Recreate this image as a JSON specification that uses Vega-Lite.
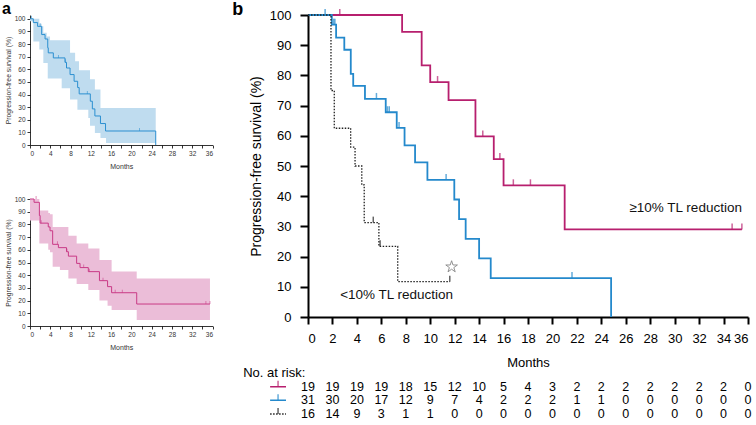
{
  "$schema": "https://vega.github.io/schema/vega-lite/v6.json",
  "description": "Kaplan-Meier progression-free survival, panels a and b",
  "background": "white",
  "padding": {"left": 2, "top": 0, "right": 0, "bottom": 0},
  "config": {
    "font": "Liberation Sans",
    "view": {"stroke": null},
    "axis": {"grid": false, "labelColor": "black", "titleColor": "black", "titleFontWeight": "normal", "domainColor": "black", "tickColor": "black"}
  },
  "datasets": {
    "kmA1": [
      {"t": 0, "s": 100}, {"t": 0.65, "s": 97}, {"t": 1.5, "s": 94}, {"t": 2.3, "s": 87.5},
      {"t": 2.97, "s": 84}, {"t": 3.5, "s": 77}, {"t": 3.6, "s": 73}, {"t": 4.6, "s": 69},
      {"t": 6.9, "s": 65.5}, {"t": 7.2, "s": 61}, {"t": 7.9, "s": 55.8}, {"t": 8.7, "s": 50.5},
      {"t": 9.4, "s": 45.5}, {"t": 9.7, "s": 40.5}, {"t": 11.9, "s": 34.7}, {"t": 12.3, "s": 28.6},
      {"t": 12.8, "s": 23}, {"t": 13.9, "s": 17}, {"t": 14.9, "s": 11.1}, {"t": 24.8, "s": 0}
    ],
    "bandA1": [
      {"t": 0, "lo": 98, "hi": 100}, {"t": 0.66, "lo": 82, "hi": 100}, {"t": 1.84, "lo": 75.7, "hi": 96},
      {"t": 2.3, "lo": 75.7, "hi": 94}, {"t": 2.63, "lo": 65, "hi": 89}, {"t": 3.3, "lo": 65, "hi": 86},
      {"t": 3.5, "lo": 52.6, "hi": 86}, {"t": 3.95, "lo": 52.6, "hi": 83}, {"t": 6.25, "lo": 45, "hi": 83},
      {"t": 7.9, "lo": 36, "hi": 73}, {"t": 8.9, "lo": 36, "hi": 66.4}, {"t": 9.35, "lo": 28, "hi": 66.4},
      {"t": 9.67, "lo": 28, "hi": 59.3}, {"t": 11.5, "lo": 21.4, "hi": 59.3}, {"t": 11.84, "lo": 15.3, "hi": 52},
      {"t": 12.8, "lo": 9.5, "hi": 44}, {"t": 13.9, "lo": 5.6, "hi": 29.4}, {"t": 15, "lo": 1.6, "hi": 29.4},
      {"t": 24.8, "lo": 1.6, "hi": 29.4}
    ],
    "censA1": [
      {"t": 0.3, "s": 100}, {"t": 2.0, "s": 94}, {"t": 5.6, "s": 69}, {"t": 7.0, "s": 65.5},
      {"t": 11.3, "s": 40.5}, {"t": 21.6, "s": 11.1}
    ],
    "kmA2": [
      {"t": 0, "s": 100}, {"t": 0.8, "s": 97.4}, {"t": 1.85, "s": 87}, {"t": 2.0, "s": 81},
      {"t": 3.6, "s": 78}, {"t": 3.95, "s": 75}, {"t": 4.47, "s": 64.3}, {"t": 5.6, "s": 61.7},
      {"t": 7.2, "s": 58.5}, {"t": 7.57, "s": 55}, {"t": 9.2, "s": 49.3}, {"t": 9.87, "s": 46},
      {"t": 11.5, "s": 42.8}, {"t": 13.7, "s": 35.7}, {"t": 15.3, "s": 31}, {"t": 16.1, "s": 26.2},
      {"t": 21.05, "s": 17.3}, {"t": 35.5, "s": 17.3}
    ],
    "bandA2": [
      {"t": 0, "lo": 83, "hi": 100}, {"t": 1.85, "lo": 65, "hi": 91}, {"t": 3.6, "lo": 60, "hi": 89},
      {"t": 3.95, "lo": 58, "hi": 88}, {"t": 4.47, "lo": 46.7, "hi": 78}, {"t": 5.9, "lo": 44, "hi": 78},
      {"t": 7.57, "lo": 37.5, "hi": 71}, {"t": 9.2, "lo": 33, "hi": 65}, {"t": 11.5, "lo": 28.3, "hi": 61},
      {"t": 13.7, "lo": 20, "hi": 52}, {"t": 15.3, "lo": 16, "hi": 52}, {"t": 16.1, "lo": 12.6, "hi": 43},
      {"t": 21.05, "lo": 4.7, "hi": 37.5}, {"t": 35.5, "lo": 4.7, "hi": 37.5}
    ],
    "censA2": [
      {"t": 1.2, "s": 100}, {"t": 2.2, "s": 81}, {"t": 5.4, "s": 64.3}, {"t": 7.3, "s": 58.5},
      {"t": 10.6, "s": 46}, {"t": 11.7, "s": 42.8}, {"t": 14.4, "s": 35.7}, {"t": 16.8, "s": 26.2},
      {"t": 18.2, "s": 26.2}, {"t": 34.7, "s": 17.3}, {"t": 35.5, "s": 17.3}
    ],
    "kmB": [
      {"g": "m", "t": 0, "s": 100}, {"g": "m", "t": 7.7, "s": 94.4}, {"g": "m", "t": 9.3, "s": 83.3},
      {"g": "m", "t": 10.0, "s": 77.8}, {"g": "m", "t": 11.5, "s": 71.8}, {"g": "m", "t": 13.7, "s": 59.8},
      {"g": "m", "t": 15.2, "s": 52.3}, {"g": "m", "t": 16.0, "s": 43.6}, {"g": "m", "t": 21.0, "s": 29.0},
      {"g": "m", "t": 35.5, "s": 29.0},
      {"g": "b", "t": 0, "s": 100}, {"g": "b", "t": 1.95, "s": 96.8}, {"g": "b", "t": 2.3, "s": 92.5},
      {"g": "b", "t": 2.97, "s": 88.5}, {"g": "b", "t": 3.5, "s": 80.5}, {"g": "b", "t": 3.7, "s": 76.5},
      {"g": "b", "t": 4.66, "s": 72.2}, {"g": "b", "t": 6.36, "s": 67.8}, {"g": "b", "t": 7.26, "s": 62.6},
      {"g": "b", "t": 7.9, "s": 56.8}, {"g": "b", "t": 8.76, "s": 51.2}, {"g": "b", "t": 9.77, "s": 45.4},
      {"g": "b", "t": 11.97, "s": 38.9}, {"g": "b", "t": 12.36, "s": 32.4}, {"g": "b", "t": 12.9, "s": 25.9},
      {"g": "b", "t": 14.0, "s": 19.4}, {"g": "b", "t": 14.95, "s": 12.9}, {"g": "b", "t": 24.8, "s": 0},
      {"g": "k", "t": 0, "s": 100}, {"g": "k", "t": 1.88, "s": 75}, {"g": "k", "t": 2.15, "s": 62.5},
      {"g": "k", "t": 3.49, "s": 56.25}, {"g": "k", "t": 3.85, "s": 50}, {"g": "k", "t": 4.4, "s": 43.75},
      {"g": "k", "t": 4.6, "s": 31.25}, {"g": "k", "t": 5.8, "s": 23.4}, {"g": "k", "t": 7.34, "s": 11.7},
      {"g": "k", "t": 11.6, "s": 11.7}
    ],
    "censB": [
      {"g": "m", "t": 2.6, "s": 100}, {"g": "m", "t": 10.6, "s": 77.8}, {"g": "m", "t": 14.3, "s": 59.8},
      {"g": "m", "t": 15.7, "s": 52.3}, {"g": "m", "t": 16.8, "s": 43.6}, {"g": "m", "t": 18.2, "s": 43.6},
      {"g": "m", "t": 34.7, "s": 29}, {"g": "m", "t": 35.5, "s": 29},
      {"g": "b", "t": 1.4, "s": 100}, {"g": "b", "t": 2.1, "s": 96.8}, {"g": "b", "t": 2.2, "s": 96.8},
      {"g": "b", "t": 5.6, "s": 72.2}, {"g": "b", "t": 6.5, "s": 67.8}, {"g": "b", "t": 6.65, "s": 67.8},
      {"g": "b", "t": 7.45, "s": 62.6}, {"g": "b", "t": 11.3, "s": 45.4}, {"g": "b", "t": 21.6, "s": 12.9},
      {"g": "k", "t": 5.34, "s": 31.25}, {"g": "k", "t": 5.9, "s": 23.4}, {"g": "k", "t": 11.6, "s": 11.7}
    ],
    "notes": [
      {"t": 30.9, "s": 36.0, "label": "≥10% TL reduction"},
      {"t": 7.25, "s": 7.2, "label": "<10% TL reduction"}
    ],
    "star": [{"t": 11.75, "s": 16.6}],
    "letterA": [{"t": -5.5, "s": 103.8, "label": "a"}],
    "letterB": [{"t": -6.2, "s": 100, "label": "b"}],
    "risk": [
      {"g": "m", "t": 0, "n": 19}, {"g": "m", "t": 2, "n": 19}, {"g": "m", "t": 4, "n": 19}, {"g": "m", "t": 6, "n": 19},
      {"g": "m", "t": 8, "n": 18}, {"g": "m", "t": 10, "n": 15}, {"g": "m", "t": 12, "n": 12}, {"g": "m", "t": 14, "n": 10},
      {"g": "m", "t": 16, "n": 5}, {"g": "m", "t": 18, "n": 4}, {"g": "m", "t": 20, "n": 3}, {"g": "m", "t": 22, "n": 2},
      {"g": "m", "t": 24, "n": 2}, {"g": "m", "t": 26, "n": 2}, {"g": "m", "t": 28, "n": 2}, {"g": "m", "t": 30, "n": 2},
      {"g": "m", "t": 32, "n": 2}, {"g": "m", "t": 34, "n": 2}, {"g": "m", "t": 36, "n": 0},
      {"g": "b", "t": 0, "n": 31}, {"g": "b", "t": 2, "n": 30}, {"g": "b", "t": 4, "n": 20}, {"g": "b", "t": 6, "n": 17},
      {"g": "b", "t": 8, "n": 12}, {"g": "b", "t": 10, "n": 9}, {"g": "b", "t": 12, "n": 7}, {"g": "b", "t": 14, "n": 4},
      {"g": "b", "t": 16, "n": 2}, {"g": "b", "t": 18, "n": 2}, {"g": "b", "t": 20, "n": 2}, {"g": "b", "t": 22, "n": 1},
      {"g": "b", "t": 24, "n": 1}, {"g": "b", "t": 26, "n": 0}, {"g": "b", "t": 28, "n": 0}, {"g": "b", "t": 30, "n": 0},
      {"g": "b", "t": 32, "n": 0}, {"g": "b", "t": 34, "n": 0}, {"g": "b", "t": 36, "n": 0},
      {"g": "k", "t": 0, "n": 16}, {"g": "k", "t": 2, "n": 14}, {"g": "k", "t": 4, "n": 9}, {"g": "k", "t": 6, "n": 3},
      {"g": "k", "t": 8, "n": 1}, {"g": "k", "t": 10, "n": 1}, {"g": "k", "t": 12, "n": 0}, {"g": "k", "t": 14, "n": 0},
      {"g": "k", "t": 16, "n": 0}, {"g": "k", "t": 18, "n": 0}, {"g": "k", "t": 20, "n": 0}, {"g": "k", "t": 22, "n": 0},
      {"g": "k", "t": 24, "n": 0}, {"g": "k", "t": 26, "n": 0}, {"g": "k", "t": 28, "n": 0}, {"g": "k", "t": 30, "n": 0},
      {"g": "k", "t": 32, "n": 0}, {"g": "k", "t": 34, "n": 0}, {"g": "k", "t": 36, "n": 0}
    ],
    "riskKey": [
      {"g": "m", "t1": -3.1, "t2": -1.8, "tm": -2.45},
      {"g": "b", "t1": -3.1, "t2": -1.8, "tm": -2.45},
      {"g": "k", "t1": -3.1, "t2": -1.8, "tm": -2.45}
    ],
    "riskHead": [{"g": "hdr", "t": -5.3, "label": "No. at risk:"}]
  },
  "hconcat": [
    {
      "vconcat": [
        {
          "width": 182.5,
          "height": 130,
          "encoding": {
            "x": {"field": "t", "type": "quantitative", "scale": {"domain": [0, 36], "nice": false},
              "axis": {"title": "Months", "values": [0,2,4,6,8,10,12,14,16,18,20,22,24,26,28,30,32,34,36], "labelFontSize": 6.5, "titleFontSize": 7, "tickSize": 3, "labelPadding": 2, "titlePadding": 6, "domainWidth": 0.8, "tickWidth": 0.8, "labelColor": "#333", "titleColor": "#333"}},
            "y": {"field": "s", "type": "quantitative", "scale": {"domain": [0, 103], "nice": false},
              "axis": {"title": "Progression-free survival (%)", "values": [0,10,20,30,40,50,60,70,80,90,100], "labelFontSize": 6.5, "titleFontSize": 6.8, "tickSize": 3, "labelPadding": 2, "titlePadding": 3, "domainWidth": 0.8, "tickWidth": 0.8, "labelColor": "#333", "titleColor": "#333"}}
          },
          "layer": [
            {"data": {"name": "bandA1"}, "mark": {"type": "area", "interpolate": "step-after", "color": "#bfdcef"},
              "encoding": {"y": {"field": "lo", "type": "quantitative"}, "y2": {"field": "hi"}}},
            {"data": {"name": "kmA1"}, "mark": {"type": "line", "interpolate": "step-after", "color": "#2b8fd0", "strokeWidth": 1}},
            {"data": {"name": "censA1"}, "mark": {"type": "tick", "orient": "vertical", "size": 3, "thickness": 0.8, "yOffset": -1.5, "color": "#2b8fd0"}},
            {"data": {"name": "letterA"}, "mark": {"type": "text", "fontSize": 16, "fontWeight": "bold", "align": "left", "baseline": "alphabetic", "color": "black"},
              "encoding": {"text": {"field": "label"}}}
          ]
        },
        {
          "width": 182.5,
          "height": 127,
          "encoding": {
            "x": {"field": "t", "type": "quantitative", "scale": {"domain": [0, 36], "nice": false},
              "axis": {"title": "Months", "values": [0,2,4,6,8,10,12,14,16,18,20,22,24,26,28,30,32,34,36], "labelFontSize": 6.5, "titleFontSize": 7, "tickSize": 3, "labelPadding": 2, "titlePadding": 6, "domainWidth": 0.8, "tickWidth": 0.8, "labelColor": "#333", "titleColor": "#333"}},
            "y": {"field": "s", "type": "quantitative", "scale": {"domain": [0, 100], "nice": false},
              "axis": {"title": "Progression-free survival (%)", "values": [0,10,20,30,40,50,60,70,80,90,100], "labelFontSize": 6.5, "titleFontSize": 6.8, "tickSize": 3, "labelPadding": 2, "titlePadding": 3, "domainWidth": 0.8, "tickWidth": 0.8, "labelColor": "#333", "titleColor": "#333"}}
          },
          "layer": [
            {"data": {"name": "bandA2"}, "mark": {"type": "area", "interpolate": "step-after", "color": "#ebbdd8"},
              "encoding": {"y": {"field": "lo", "type": "quantitative"}, "y2": {"field": "hi"}}},
            {"data": {"name": "kmA2"}, "mark": {"type": "line", "interpolate": "step-after", "color": "#c93a86", "strokeWidth": 1}},
            {"data": {"name": "censA2"}, "mark": {"type": "tick", "orient": "vertical", "size": 3, "thickness": 0.8, "yOffset": -1.5, "color": "#c93a86"}}
          ]
        }
      ],
      "spacing": 54,
      "bounds": "flush"
    },
    {
      "vconcat": [
        {
          "width": 440,
          "height": 302,
          "encoding": {
            "x": {"field": "t", "type": "quantitative", "scale": {"domain": [0, 36], "nice": false},
              "axis": {"title": "Months", "values": [0,2,4,6,8,10,12,14,16,18,20,22,24,26,28,30,32,34,36], "labelFontSize": 13, "titleFontSize": 13, "tickSize": 7, "tickWidth": 2, "domainWidth": 2, "labelPadding": 8, "titlePadding": 11}},
            "y": {"field": "s", "type": "quantitative", "scale": {"domain": [0, 100], "nice": false},
              "axis": {"title": "Progression-free survival (%)", "values": [0,10,20,30,40,50,60,70,80,90,100], "labelFontSize": 13, "titleFontSize": 14, "tickSize": 8, "tickWidth": 2, "domainWidth": 2, "labelPadding": 9, "titlePadding": 6}},
            "color": {"field": "g", "type": "nominal", "scale": {"domain": ["m", "b", "k"], "range": ["#b71f6e", "#2489cc", "#222222"]}, "legend": null}
          },
          "layer": [
            {"data": {"name": "kmB"}, "transform": [{"filter": "datum.g !== 'k'"}],
              "mark": {"type": "line", "interpolate": "step-after", "strokeWidth": 1.8}},
            {"data": {"name": "kmB"}, "transform": [{"filter": "datum.g === 'k'"}],
              "mark": {"type": "line", "interpolate": "step-after", "strokeWidth": 1.3, "strokeDash": [1.5, 1.5]}},
            {"data": {"name": "censB"},
              "mark": {"type": "tick", "orient": "vertical", "size": 6, "thickness": 1.5, "yOffset": -3}},
            {"data": {"name": "notes"},
              "mark": {"type": "text", "fontSize": 13.5, "color": "#111"},
              "encoding": {"text": {"field": "label"}, "color": {"value": "#111"}}},
            {"data": {"name": "letterB"},
              "mark": {"type": "text", "fontSize": 18, "fontWeight": "bold", "align": "left", "baseline": "alphabetic"},
              "encoding": {"text": {"field": "label"}, "color": {"value": "black"}}},
            {"data": {"name": "star"},
              "mark": {"type": "point", "shape": "M0,-1L0.225,-0.309L0.951,-0.309L0.363,0.118L0.588,0.809L0,0.382L-0.588,0.809L-0.363,0.118L-0.951,-0.309L-0.225,-0.309Z", "size": 150, "filled": false, "stroke": "#555", "strokeWidth": 0.9, "fill": "white"},
              "encoding": {"color": {"value": "#555"}}}
          ]
        },
        {
          "width": 440,
          "height": 41,
          "encoding": {
            "y": {"field": "g", "type": "nominal", "scale": {"type": "point", "domain": ["hdr", "m", "b", "k"], "padding": 0}, "axis": null}
          },
          "layer": [
            {"data": {"name": "risk"},
              "mark": {"type": "text", "fontSize": 12.5, "color": "black"},
              "encoding": {
                "x": {"field": "t", "type": "quantitative", "scale": {"domain": [0, 36], "nice": false}, "axis": null},
                "text": {"field": "n", "type": "quantitative"}
              }},
            {"data": {"name": "riskHead"},
              "mark": {"type": "text", "fontSize": 13, "align": "left", "color": "black"},
              "encoding": {
                "x": {"field": "t", "type": "quantitative"},
                "text": {"field": "label"}
              }},
            {"data": {"name": "riskKey"},
              "mark": {"type": "rule", "strokeWidth": 1.5},
              "encoding": {
                "x": {"field": "t1", "type": "quantitative"},
                "x2": {"field": "t2"},
                "color": {"field": "g", "type": "nominal", "scale": {"domain": ["m", "b", "k"], "range": ["#b71f6e", "#2489cc", "#222222"]}, "legend": null},
                "strokeDash": {"field": "g", "type": "nominal", "scale": {"domain": ["m", "b", "k"], "range": [[1, 0], [1, 0], [1.5, 1.5]]}, "legend": null}
              }},
            {"data": {"name": "riskKey"},
              "mark": {"type": "tick", "orient": "vertical", "size": 6, "thickness": 1.5, "yOffset": -3},
              "encoding": {
                "x": {"field": "tm", "type": "quantitative"},
                "color": {"field": "g", "type": "nominal", "scale": {"domain": ["m", "b", "k"], "range": ["#b71f6e", "#2489cc", "#222222"]}, "legend": null}
              }}
          ]
        }
      ],
      "spacing": 56,
      "bounds": "flush"
    }
  ],
  "spacing": 278,
  "bounds": "flush"
}
